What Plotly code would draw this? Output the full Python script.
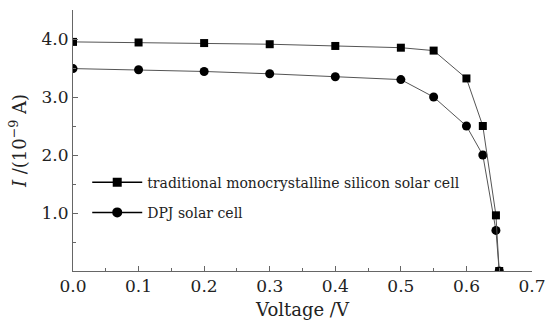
import plotly.graph_objects as go

voltage_trad = [0.0, 0.1, 0.2, 0.3, 0.4, 0.5, 0.55, 0.6, 0.625, 0.645, 0.65]
current_trad = [3.95, 3.94, 3.93, 3.91, 3.88, 3.85, 3.80, 3.32, 2.50, 0.96, 0.0]
voltage_dpj = [0.0, 0.1, 0.2, 0.3, 0.4, 0.5, 0.55, 0.6, 0.625, 0.645, 0.65]
current_dpj = [3.49, 3.47, 3.44, 3.40, 3.35, 3.30, 3.00, 2.50, 2.00, 0.70, 0.0]

name_trad = "traditional monocrystalline silicon solar cell"
name_dpj = "DPJ solar cell"

FONT = "DejaVu Serif"
LINE_GRAY = "#555555"

fig = go.Figure()
fig.add_trace(go.Scatter(x=voltage_dpj, y=current_dpj, mode="lines+markers",
                         line=dict(color=LINE_GRAY, width=1),
                         marker=dict(symbol="circle", size=9, color="black"),
                         showlegend=False))
fig.add_trace(go.Scatter(x=voltage_trad, y=current_trad, mode="lines+markers",
                         line=dict(color=LINE_GRAY, width=1),
                         marker=dict(symbol="square", size=8, color="black"),
                         showlegend=False))
# legend entries
fig.add_trace(go.Scatter(x=[None], y=[None], mode="lines+markers", name=name_trad,
                         legendgroup="a",
                         line=dict(color="black", width=1.5),
                         marker=dict(symbol="square", size=9, color="black")))
fig.add_trace(go.Scatter(x=[None], y=[None], mode="lines+markers", name=name_dpj,
                         legendgroup="b",
                         line=dict(color="black", width=1.5),
                         marker=dict(symbol="circle", size=10, color="black")))

axis_common = dict(showline=True, linecolor="#666666", linewidth=1,
                   ticks="inside", ticklen=5, tickcolor="#666666",
                   showgrid=False, zeroline=False,
                   tickfont=dict(family=FONT, size=17, color="#222222"))

fig.update_xaxes(range=[0, 0.7], tick0=0, dtick=0.1, tickformat=".1f",
                 minor=dict(dtick=0.05, ticks="inside", ticklen=3, tickcolor="#666666"),
                 title=dict(text="Voltage /V", font=dict(family=FONT, size=18, color="#222222"),
                            standoff=7),
                 **axis_common)
fig.update_yaxes(range=[0, 4.5], tickvals=[1, 2, 3, 4], ticktext=["1.0", "2.0", "3.0", "4.0"],
                 minor=dict(tickvals=[0.5, 1.5, 2.5, 3.5, 4.5], ticks="inside", ticklen=3,
                            tickcolor="#666666"),
                 title=dict(text="<i>I</i> /(10<sup>−9</sup> A)",
                            font=dict(family=FONT, size=18, color="#222222"), standoff=10),
                 **axis_common)

fig.update_layout(
    width=556, height=326,
    margin=dict(l=73, r=14, t=10, b=55),
    paper_bgcolor="white", plot_bgcolor="white",
    legend=dict(x=0.031, y=0.40, xanchor="left", yanchor="top",
                bgcolor="rgba(0,0,0,0)", traceorder="grouped", tracegroupgap=9,
                itemwidth=50,
                font=dict(family=FONT, size=14, color="#222222")),
)

fig.write_html("out.html")
